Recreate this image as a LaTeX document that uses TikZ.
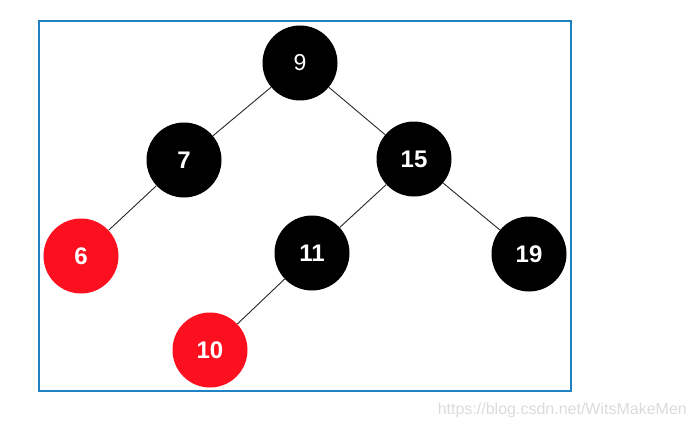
\documentclass[tikz,border=0pt]{standalone}
\usepackage{fontspec}
\setmainfont{Liberation Sans}
\definecolor{framblue}{RGB}{30,130,195}
\definecolor{rbred}{RGB}{252,16,32}
\begin{document}
\begin{tikzpicture}[x=1pt, y=-1pt,
	rbnode/.style={circle, minimum size=75pt, inner sep=0pt, text=white, font=\fontsize{24}{24}\selectfont\bfseries},
	blacknode/.style={rbnode, fill=black},
	rednode/.style={rbnode, fill=rbred},
	rbedge/.style={draw=black!85, line width=0.9pt}]
	\useasboundingbox (0,0) rectangle (694,428);
	\draw[framblue, line width=2pt] (39,21) rectangle (571,391);
	% nodes of the tree
	\node[blacknode, font=\fontsize{23}{23}\selectfont] (n9) at (300,63) {9};
	\node[blacknode] (n7) at (184,160) {7};
	\node[blacknode] (n15) at (414,159) {15};
	\node[rednode] (n6) at (81,256) {6};
	\node[blacknode] (n11) at (312,253) {11};
	\node[blacknode] (n19) at (529,254) {19};
	\node[rednode] (n10) at (210,350) {10};
	% edges
	\draw[rbedge] (n9) -- (n7);
	\draw[rbedge] (n9) -- (n15);
	\draw[rbedge] (n7) -- (n6);
	\draw[rbedge] (n15) -- (n11);
	\draw[rbedge] (n15) -- (n19);
	\draw[rbedge] (n11) -- (n10);
	\node[anchor=east, text=black!14, font=\fontsize{16}{16}\selectfont, inner sep=0pt] (wm) at (687,410) {https://blog.csdn.net/WitsMakeMen};
\end{tikzpicture}
\end{document}
